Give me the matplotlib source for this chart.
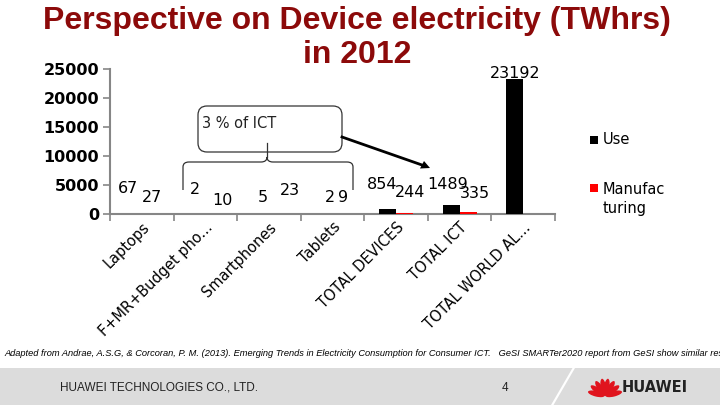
import numpy as np
import matplotlib.pyplot as plt
import matplotlib.transforms as mtransforms
from matplotlib.patches import Rectangle, FancyBboxPatch, Ellipse, Polygon
from matplotlib.path import Path
from matplotlib.patches import PathPatch

# ------------------------------
# data
# ------------------------------
categories = ['Laptops', 'F+MR+Budget pho...', 'Smartphones', 'Tablets',
              'TOTAL DEVICES', 'TOTAL ICT', 'TOTAL WORLD AL...']
use_vals = [67, 2, 5, 2, 854, 1489, 23192]
manuf_vals = [27, 10, 23, 9, 244, 335, 0]
series_names = ['Use', 'Manufac\nturing']
yticks = [0, 5000, 10000, 15000, 20000, 25000]

# label placement (Excel had them nudged by hand)
use_lab_y = [4480, 4140, 2760, 2760, 5000, 5000, 24140]
use_lab_dx = [-0.08, -0.03, 0.03, 0.09, -0.08, -0.06, 0.0]
man_lab_y = [2760, 2410, 3970, 2760, 3790, 3620]
man_lab_dx = [0.03, 0.14, 0.19, 0.03, 0.08, 0.11]

title_col = '#8c0a0a'
axis_col = '#868686'

fig = plt.figure(figsize=(7.2, 4.05), dpi=100)
fig.patch.set_facecolor('white')

# pixel helper: (x, y from top) -> figure
px = mtransforms.Affine2D().scale(1 / 720, -1 / 405).translate(0, 1) + fig.transFigure

# ------------------------------
# footer band
# ------------------------------
fig.add_artist(Rectangle((0, 368), 720, 37, transform=px, facecolor='#dcdcdc',
                         edgecolor='none', zorder=0))
fig.add_artist(Polygon([(551, 405), (553.5, 405), (575, 368), (572.5, 368)], closed=True,
                       transform=px, facecolor='white', edgecolor='none', zorder=1))
fig.text(60 / 720, 1 - 388 / 405, 'HUAWEI TECHNOLOGIES CO., LTD.', fontsize=8.5,
         family='Liberation Sans', va='center', ha='left', color='#222222')
fig.text(505 / 720, 1 - 388 / 405, '4', fontsize=8.5, family='Liberation Sans',
         va='center', ha='center', color='#222222')

# logo petals
for ang in [14, 36, 58, 80, 100, 122, 144, 166]:
    a = np.deg2rad(ang)
    cx, cy = 605 + 9 * np.cos(a), 396 - 9 * np.sin(a)
    fig.add_artist(Ellipse((cx, cy), 17, 5.5, angle=-ang, transform=px,
                           facecolor='#e0141e', edgecolor='none', zorder=2))
fig.text(622 / 720, 1 - 387 / 405, 'HUAWEI', fontsize=10.5, fontweight='bold',
         family='DejaVu Sans', va='center', ha='left', color='#222222')

# citation
fig.text(4 / 720, 1 - 354 / 405,
         'Adapted from Andrae, A.S.G, & Corcoran, P. M. (2013). Emerging Trends in Electricity '
         'Consumption for Consumer ICT.   GeSI SMARTer2020 report from GeSI show similar results',
         fontsize=6.7, style='italic', family='Liberation Sans', va='center', ha='left')

# ------------------------------
# title
# ------------------------------
fig.text(357 / 720, 1 - 38 / 405, 'Perspective on Device electricity (TWhrs)\nin 2012',
         fontsize=23, fontweight='bold', color=title_col, ha='center', va='center',
         family=['Liberation Sans Narrow', 'Liberation Sans'], linespacing=1.2)

# ------------------------------
# chart
# ------------------------------
ax = fig.add_axes([110 / 720, 1 - 214 / 405, 445 / 720, 145 / 405])
x = np.arange(len(categories))
w = 0.267
b_use = ax.bar(x - w / 2, use_vals, w, color='black', zorder=3)
b_man = ax.bar(x + w / 2, manuf_vals, w, color='#ff0000', zorder=3)

ax.set_xlim(-0.5, len(categories) - 0.5)
ax.set_ylim(0, 25000)
ax.set_yticks(yticks)
ax.set_yticklabels([str(v) for v in yticks], fontsize=11.5, fontweight='bold',
                   family='DejaVu Sans')
ax.set_xticks(np.arange(len(categories) + 1) - 0.5, minor=False)
ax.set_xticklabels([])
ax.set_xticks(x, minor=True)
ax.set_xticklabels(categories, minor=True, rotation=45, ha='right',
                   rotation_mode='anchor', fontsize=10.5, family='DejaVu Sans')
ax.tick_params(axis='x', which='minor', length=0, pad=4)
ax.tick_params(axis='x', which='major', length=5, color=axis_col, width=1.2)
ax.tick_params(axis='y', length=5, color=axis_col, width=1.2, pad=3)
for s in ['top', 'right']:
    ax.spines[s].set_visible(False)
for s in ['left', 'bottom']:
    ax.spines[s].set_color(axis_col)
    ax.spines[s].set_linewidth(1.5)
ax.patch.set_alpha(0)

lab_kw = dict(fontsize=11.5, family='DejaVu Sans', ha='center', va='center', zorder=4)
for i, v in enumerate(use_vals):
    ax.text(x[i] - w / 2 + use_lab_dx[i], use_lab_y[i], str(v), **lab_kw)
for i, v in enumerate(manuf_vals[:len(man_lab_y)]):
    ax.text(x[i] + w / 2 + man_lab_dx[i], man_lab_y[i], str(v), **lab_kw)

# ------------------------------
# legend (drawn by hand)
# ------------------------------
fig.add_artist(Rectangle((590, 136), 8, 8, transform=px, facecolor='black', edgecolor='none'))
fig.text(603 / 720, 1 - 140 / 405, series_names[0], fontsize=10.5, family='DejaVu Sans',
         va='center', ha='left')
fig.add_artist(Rectangle((590, 184), 8, 8, transform=px, facecolor='#ff0000', edgecolor='none'))
fig.text(603 / 720, 1 - 182 / 405, series_names[1], fontsize=10.5, family='DejaVu Sans',
         va='top', ha='left', linespacing=1.35)

# ------------------------------
# annotation: box, brace, arrow
# ------------------------------
fig.add_artist(FancyBboxPatch((198, 106), 144, 46, boxstyle='round,pad=0,rounding_size=9',
                              transform=px, facecolor='none', edgecolor='#333333', lw=0.9))
fig.text(202 / 720, 1 - 123 / 405, '3 % of ICT', fontsize=10.5, family='DejaVu Sans',
         va='center', ha='left', color='#222222')
brace = [(183, 190), (183, 167), (183, 162), (189, 162), (261, 162), (267, 162), (267, 157),
         (267, 162), (273, 162), (347, 162), (353, 162), (353, 167), (353, 190)]
codes = [Path.MOVETO, Path.LINETO, Path.CURVE3, Path.CURVE3, Path.LINETO, Path.CURVE3,
         Path.CURVE3, Path.CURVE3, Path.CURVE3, Path.LINETO, Path.CURVE3, Path.CURVE3,
         Path.LINETO]
fig.add_artist(PathPatch(Path(brace, codes), transform=px, facecolor='none',
                         edgecolor='#333333', lw=0.9))
fig.add_artist(plt.Line2D([267, 267], [143, 157], transform=px, color='#333333', lw=0.9))
fig.add_artist(plt.Line2D([342, 422], [137, 165], transform=px, color='black', lw=2))
fig.add_artist(Polygon([(430, 168), (420, 168.5), (424, 161)], closed=True, transform=px,
                       facecolor='black', edgecolor='none'))

plt.savefig('out.png', dpi=100)
